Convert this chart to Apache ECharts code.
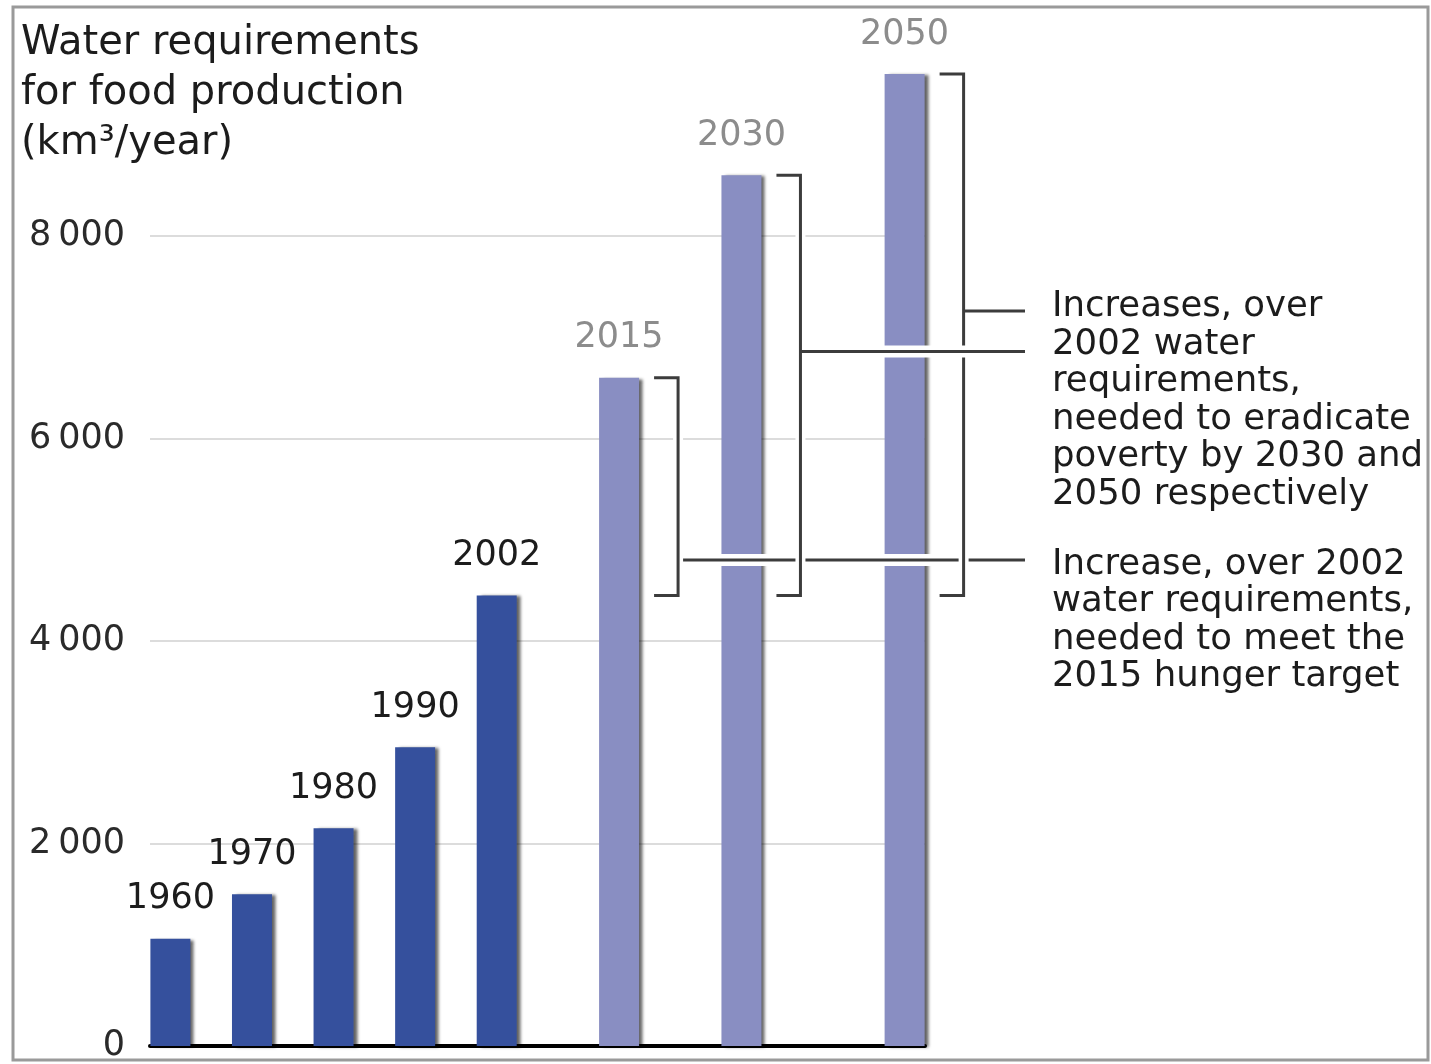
<!DOCTYPE html>
<html>
<head>
<meta charset="utf-8">
<script src="https://cdn.jsdelivr.net/npm/echarts@6/dist/echarts.min.js"></script>
<style>
  html, body { margin: 0; padding: 0; background: #fff; }
  #chart { width: 1431px; height: 1064px; }
</style>
</head>
<body>
<div id="chart"></div>
<script>
// Water requirements for food production (km³/year)
const years = ['1960', '1970', '1980', '1990', '2002', '2015', '2030', '2050'];
const requirements = [1060, 1500, 2150, 2950, 4450, 6600, 8600, 9600];
const projected = [false, false, false, false, false, true, true, true];
const baseYear = '2002';
const yTicks = [0, 2000, 4000, 6000, 8000];

const titleLines = ['Water requirements', 'for food production', '(km³/year)'];
const noteEradicate = ['Increases, over', '2002 water', 'requirements,', 'needed to eradicate',
  'poverty by 2030 and', '2050 respectively'];
const noteHunger = ['Increase, over 2002', 'water requirements,', 'needed to meet the', '2015 hunger target'];

// ---- layout ----
// empty slots on the category axis before each bar (uneven spacing between years)
const slotsBefore = [0, 1, 1, 1, 1, 2, 2, 3];
// height (axis units) where each bracket's leader line leaves towards its note
const leaderAt = { '2015': 4800, '2030': 6860, '2050': 7260 };
// leaders drawn over the neighbouring brackets
const leaderOnTop = { '2015': 0, '2030': 1, '2050': 1 };
const LEADER_END_X = 1025;
const FONT = 'DejaVu Sans';
const DARK = '#35509d', LIGHT = '#898ec2';
const INK = '#1c1c1c', GREY_TEXT = '#8c8c8c', LINE = '#3c3c3c';

const categories = [];
years.forEach((y, i) => {
  for (let k = 0; k < slotsBefore[i]; k++) categories.push('');
  categories.push(y);
});

const barData = categories.map(c => {
  const i = years.indexOf(c);
  if (i < 0) return '-';
  return {
    value: requirements[i],
    itemStyle: { color: projected[i] ? LIGHT : DARK },
    label: { color: projected[i] ? GREY_TEXT : INK }
  };
});

const baseValue = requirements[years.indexOf(baseYear)];
const bracketData = [];
years.forEach((y, i) => {
  if (!projected[i]) return;
  bracketData.push([categories.indexOf(y), requirements[i], baseValue, leaderAt[y], leaderOnTop[y]]);
});

const fmtThousands = v => {
  const s = String(v);
  return s.length > 3 ? s.slice(0, -3) + '\u2009' + s.slice(-3) : s;
};

const chart = echarts.init(document.getElementById('chart'), null, { renderer: 'canvas' });

chart.setOption({
  animation: false,
  backgroundColor: '#fff',
  title: {
    text: titleLines.join('\n'),
    left: 21,
    top: 19,
    padding: 0,
    textStyle: { fontFamily: FONT, fontSize: 40, fontWeight: 'normal', color: INK, lineHeight: 50 }
  },
  grid: { left: 150, right: 1431 - 925, top: 33.5, bottom: 18, containLabel: false },
  xAxis: {
    type: 'category',
    data: categories,
    offset: 2,
    axisLine: { show: true, lineStyle: { color: '#000', width: 4 } },
    axisTick: { show: false },
    axisLabel: { show: false },
    splitLine: { show: false }
  },
  yAxis: {
    type: 'value',
    min: 0,
    max: 10000,
    interval: 2000,
    axisLine: { show: false },
    axisTick: { show: false },
    axisLabel: {
      margin: 25,
      showMaxLabel: false,
      fontFamily: FONT,
      fontSize: 35,
      color: '#2a2a2a',
      padding: [0, 0, 14, 0],
      formatter: v => (yTicks.indexOf(v) >= 0 ? fmtThousands(v) : '')
    },
    splitLine: {
      show: true,
      showMaxLine: false,
      lineStyle: { color: '#dcdcdc', width: 2 }
    }
  },
  series: [
    {
      type: 'bar',
      data: barData,
      barWidth: 40,
      z: 2,
      itemStyle: {
        shadowColor: 'rgba(0,0,0,0.6)',
        shadowBlur: 3,
        shadowOffsetX: 4,
        shadowOffsetY: 1
      },
      label: {
        show: true,
        position: 'top',
        distance: 22,
        formatter: '{b}',
        fontFamily: FONT,
        fontSize: 35
      }
    },
    {
      // brackets from the 2002 level up to each projection, with leader lines to the notes
      type: 'custom',
      coordinateSystem: 'cartesian2d',
      silent: true,
      z: 5,
      encode: { x: 0, y: [1, 2, 3] },
      data: bracketData,
      renderItem: (params, api) => {
        const idx = api.value(0);
        const cx = api.coord([idx, 0])[0];
        const yTop = api.coord([idx, api.value(1)])[1];
        const yBase = api.coord([idx, api.value(2)])[1];
        const yLead = api.coord([idx, api.value(3)])[1];
        const lz = api.value(4) === 1 ? 5 : 1;
        const xv = cx + 59, xt = cx + 35;
        return {
          type: 'group',
          children: [
            { type: 'line', z2: 3, shape: { x1: xv, y1: yTop + 6, x2: xv, y2: yBase - 6 },
              style: { stroke: '#fff', lineWidth: 10 } },
            { type: 'polyline', z2: 4,
              shape: { points: [[xt, yTop], [xv, yTop], [xv, yBase], [xt, yBase]] },
              style: { stroke: LINE, lineWidth: 3, fill: null } },
            { type: 'line', z2: lz, shape: { x1: xv + 6, y1: yLead, x2: LEADER_END_X, y2: yLead },
              style: { stroke: '#fff', lineWidth: 12 } },
            { type: 'line', z2: lz + 1, shape: { x1: xv, y1: yLead, x2: LEADER_END_X, y2: yLead },
              style: { stroke: LINE, lineWidth: 3 } }
          ]
        };
      }
    }
  ],
  graphic: [
    {
      type: 'rect',
      shape: { x: 13, y: 7, width: 1415, height: 1053 },
      style: { fill: null, stroke: '#9a9a9a', lineWidth: 3 },
      silent: true
    },
    {
      type: 'text',
      x: 1052,
      y: 288,
      style: {
        text: noteEradicate.join('\n'),
        fontFamily: FONT, fontSize: 35.5, lineHeight: 37.6,
        fill: INK, verticalAlign: 'top', align: 'left'
      }
    },
    {
      type: 'text',
      x: 1052,
      y: 546,
      style: {
        text: noteHunger.join('\n'),
        fontFamily: FONT, fontSize: 35.5, lineHeight: 37.4,
        fill: INK, verticalAlign: 'top', align: 'left'
      }
    }
  ]
});
</script>
</body>
</html>
